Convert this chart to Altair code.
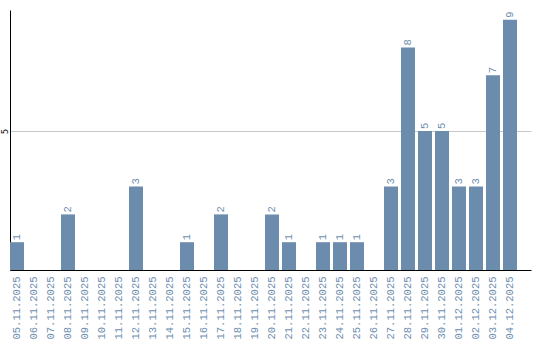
import altair as alt
import pandas as pd

dates = ["05.11.2025", "06.11.2025", "07.11.2025", "08.11.2025", "09.11.2025",
         "10.11.2025", "11.11.2025", "12.11.2025", "13.11.2025", "14.11.2025",
         "15.11.2025", "16.11.2025", "17.11.2025", "18.11.2025", "19.11.2025",
         "20.11.2025", "21.11.2025", "22.11.2025", "23.11.2025", "24.11.2025",
         "25.11.2025", "26.11.2025", "27.11.2025", "28.11.2025", "29.11.2025",
         "30.11.2025", "01.12.2025", "02.12.2025", "03.12.2025", "04.12.2025"]
values = [1, 0, 0, 2, 0, 0, 0, 3, 0, 0,
          1, 0, 2, 0, 0, 2, 1, 0, 1, 1,
          1, 0, 3, 8, 5, 5, 3, 3, 7, 9]

df = pd.DataFrame({"date": dates, "value": values})

BAR = "#6b8cad"
TXT = "#6f8fb0"

x = alt.X("date:N", sort=dates,
          scale=alt.Scale(paddingInner=0.1765, paddingOuter=0.412, align=0),
          axis=alt.Axis(title=None, labelAngle=270, labelAlign="right",
                        labelBaseline="middle", ticks=False, labelPadding=6,
                        domainColor="black", domainWidth=1, grid=False,
                        labelFont="Liberation Mono", labelFontSize=10.5,
                        labelColor=TXT))
y = alt.Y("value:Q",
          scale=alt.Scale(domain=[0, 9.35], nice=False),
          axis=alt.Axis(title=None, values=[5], labelAngle=270,
                        labelAlign="center", labelBaseline="bottom",
                        ticks=False, labelPadding=1, grid=True,
                        gridColor="#c8c8c8", domainColor="black",
                        labelFont="DejaVu Sans", labelFontSize=8,
                        labelColor="black"))

bars = alt.Chart(df).mark_bar(color=BAR).encode(x=x, y=y)

labels = alt.Chart(df).transform_filter("datum.value > 0").mark_text(
    angle=270, align="left", baseline="middle", dx=2,
    font="Liberation Mono", fontSize=10.5, color=TXT
).encode(x=alt.X("date:N", sort=dates), y="value:Q", text="value:Q")

chart = alt.layer(bars, labels).properties(
    width=521, height=260,
    autosize="none",
    padding={"left": 10, "top": 10, "right": 9, "bottom": 70},
).configure_view(stroke=None)

chart.save("out.html", embed_options={"renderer": "svg", "actions": False})
